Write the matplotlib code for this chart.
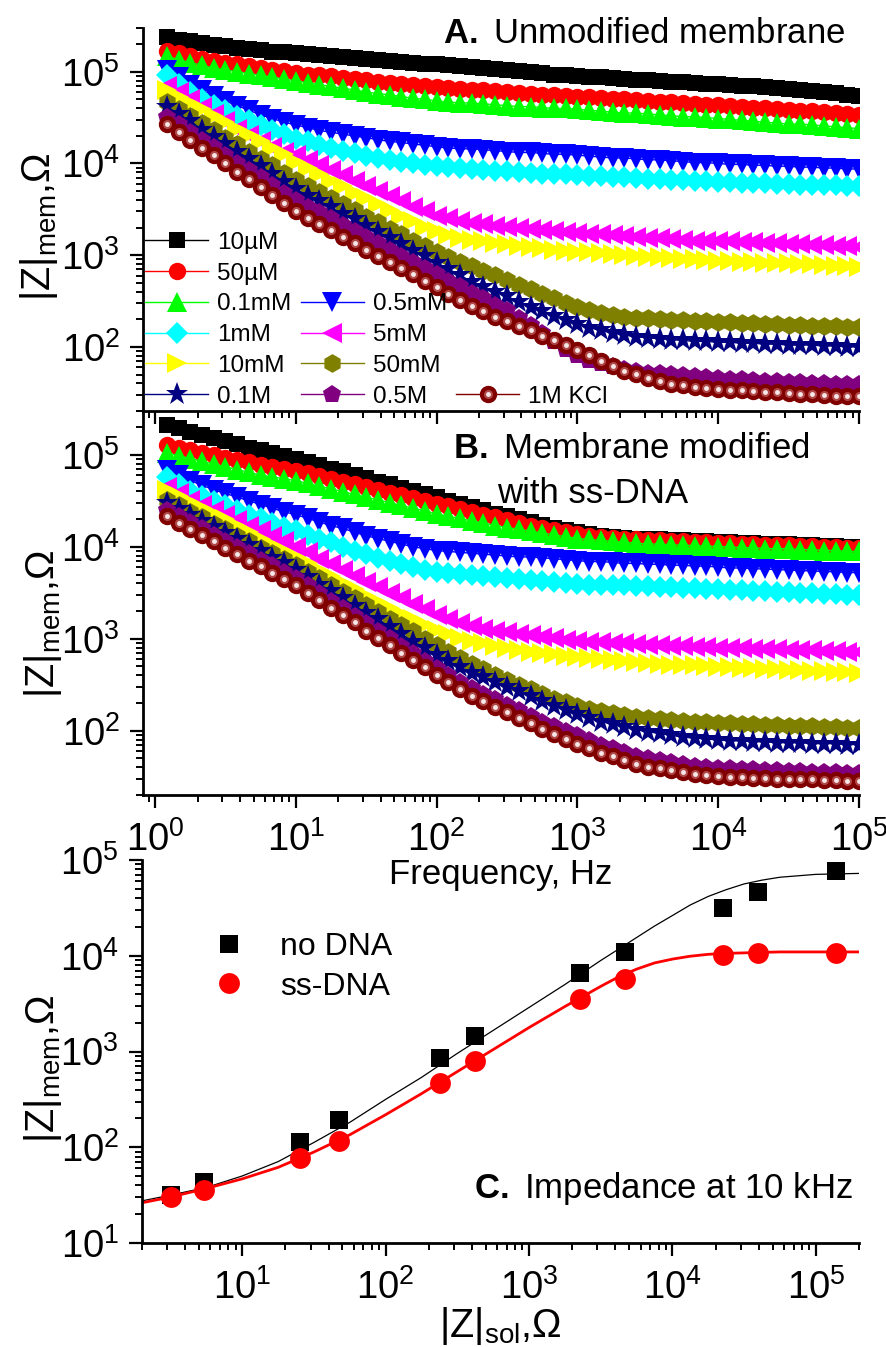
import numpy as np
import matplotlib
matplotlib.use('Agg')
import matplotlib.pyplot as plt
from matplotlib.lines import Line2D

plt.rcParams['font.family'] = ['Liberation Sans', 'DejaVu Sans']
plt.rcParams['mathtext.fontset'] = 'custom'
plt.rcParams['mathtext.rm'] = 'Liberation Sans'
plt.rcParams['mathtext.it'] = 'Liberation Sans:italic'
plt.rcParams['mathtext.bf'] = 'Liberation Sans:bold'

# ---------------- data ----------------
decade_mantissa = [1.21, 1.47, 1.78, 2.15, 2.61, 3.16, 3.83, 4.64, 5.62, 6.81, 8.25, 10.0]
freq = np.array([m * 10 ** d for d in range(5) for m in decade_mantissa])

labels = ['10µM', '50µM', '0.1mM', '0.5mM', '1mM', '5mM', '10mM', '50mM', '0.1M', '0.5M', '1M KCl']
colors = ['#000000', '#ff0000', '#00ff00', '#0000ff', '#00ffff', '#ff00ff', '#ffff00',
          '#808000', '#000080', '#800080', '#800000']
markers = ['s', 'o', '^', 'v', 'D', '<', '>', 'h', '*', 'p', 'o']
msizes = [12, 12.5, 14, 14, 11.5, 14, 14, 13.5, 17, 13.5, 12.5]

# panel A: log10 |Z|mem (Ohm)
A_10uM = [5.38, 5.35, 5.33, 5.31, 5.29, 5.28, 5.26, 5.25, 5.24, 5.22, 5.21, 5.20,
          5.19, 5.18, 5.17, 5.16, 5.15, 5.14, 5.13, 5.12, 5.11, 5.10, 5.09, 5.08,
          5.07, 5.06, 5.05, 5.04, 5.03, 5.02, 5.01, 5.00, 4.99, 4.97, 4.96, 4.95,
          4.94, 4.94, 4.93, 4.92, 4.91, 4.91, 4.90, 4.89, 4.89, 4.88, 4.87, 4.87,
          4.86, 4.85, 4.84, 4.83, 4.82, 4.81, 4.80, 4.79, 4.78, 4.77, 4.75, 4.74]
A_50uM = [5.23, 5.20, 5.17, 5.14, 5.12, 5.10, 5.08, 5.06, 5.04, 5.02, 5.01, 4.99,
          4.97, 4.96, 4.95, 4.93, 4.92, 4.91, 4.89, 4.88, 4.87, 4.86, 4.84, 4.83,
          4.82, 4.81, 4.80, 4.80, 4.79, 4.78, 4.77, 4.76, 4.75, 4.75, 4.74, 4.73,
          4.72, 4.71, 4.70, 4.70, 4.69, 4.68, 4.67, 4.67, 4.66, 4.65, 4.64, 4.64,
          4.63, 4.62, 4.61, 4.60, 4.59, 4.58, 4.57, 4.57, 4.56, 4.55, 4.54, 4.53]
A_01mM = [5.17, 5.13, 5.10, 5.07, 5.04, 5.02, 5.00, 4.98, 4.96, 4.94, 4.92, 4.90,
          4.88, 4.86, 4.84, 4.82, 4.80, 4.78, 4.76, 4.75, 4.73, 4.71, 4.70, 4.68,
          4.67, 4.66, 4.66, 4.65, 4.64, 4.63, 4.62, 4.62, 4.61, 4.60, 4.60, 4.59,
          4.58, 4.57, 4.56, 4.55, 4.55, 4.54, 4.53, 4.52, 4.51, 4.51, 4.50, 4.49,
          4.48, 4.47, 4.46, 4.45, 4.44, 4.43, 4.43, 4.42, 4.41, 4.40, 4.39, 4.38]
A_05mM = [5.02, 4.94, 4.86, 4.80, 4.74, 4.68, 4.63, 4.58, 4.53, 4.49, 4.45, 4.42,
          4.39, 4.36, 4.34, 4.32, 4.30, 4.28, 4.26, 4.24, 4.23, 4.21, 4.20, 4.18,
          4.17, 4.16, 4.16, 4.15, 4.14, 4.13, 4.12, 4.12, 4.11, 4.10, 4.10, 4.09,
          4.08, 4.07, 4.06, 4.06, 4.05, 4.04, 4.04, 4.03, 4.02, 4.01, 4.01, 4.00,
          3.99, 3.99, 3.98, 3.98, 3.97, 3.97, 3.96, 3.96, 3.95, 3.95, 3.94, 3.94]
A_1mM = [4.96, 4.87, 4.78, 4.70, 4.64, 4.58, 4.52, 4.47, 4.42, 4.37, 4.32, 4.27,
         4.24, 4.20, 4.17, 4.14, 4.11, 4.08, 4.06, 4.04, 4.02, 4.00, 3.98, 3.97,
         3.96, 3.95, 3.94, 3.93, 3.92, 3.92, 3.91, 3.90, 3.89, 3.89, 3.88, 3.87,
         3.86, 3.86, 3.85, 3.85, 3.84, 3.83, 3.83, 3.82, 3.82, 3.81, 3.81, 3.80,
         3.80, 3.79, 3.79, 3.79, 3.78, 3.78, 3.77, 3.77, 3.76, 3.76, 3.75, 3.75]
A_5mM = [4.85, 4.78, 4.70, 4.62, 4.54, 4.46, 4.38, 4.31, 4.24, 4.18, 4.13, 4.09,
         4.04, 3.98, 3.93, 3.87, 3.81, 3.75, 3.70, 3.64, 3.59, 3.53, 3.48, 3.43,
         3.40, 3.37, 3.35, 3.34, 3.32, 3.31, 3.30, 3.29, 3.28, 3.26, 3.25, 3.24,
         3.23, 3.23, 3.22, 3.21, 3.20, 3.19, 3.19, 3.18, 3.17, 3.16, 3.16, 3.15,
         3.15, 3.14, 3.14, 3.13, 3.13, 3.12, 3.12, 3.11, 3.11, 3.10, 3.10, 3.09]
A_10mM = [4.80, 4.73, 4.66, 4.59, 4.52, 4.45, 4.38, 4.31, 4.24, 4.17, 4.10, 4.02,
          3.95, 3.88, 3.81, 3.75, 3.68, 3.62, 3.56, 3.49, 3.43, 3.37, 3.31, 3.26,
          3.22, 3.19, 3.17, 3.15, 3.13, 3.12, 3.10, 3.09, 3.08, 3.06, 3.05, 3.04,
          3.03, 3.02, 3.01, 3.00, 2.99, 2.98, 2.98, 2.97, 2.96, 2.96, 2.95, 2.94,
          2.94, 2.93, 2.93, 2.92, 2.91, 2.91, 2.90, 2.90, 2.89, 2.88, 2.88, 2.87]
A_50mM = [4.67, 4.59, 4.52, 4.44, 4.36, 4.28, 4.21, 4.13, 4.05, 3.98, 3.90, 3.82,
          3.75, 3.69, 3.62, 3.56, 3.49, 3.42, 3.36, 3.29, 3.23, 3.16, 3.10, 3.03,
          2.98, 2.93, 2.88, 2.83, 2.78, 2.73, 2.68, 2.63, 2.58, 2.53, 2.48, 2.44,
          2.40, 2.37, 2.35, 2.33, 2.32, 2.31, 2.30, 2.29, 2.29, 2.28, 2.28, 2.27,
          2.27, 2.26, 2.26, 2.25, 2.25, 2.24, 2.24, 2.23, 2.23, 2.23, 2.22, 2.22]
A_01M = [4.62, 4.54, 4.46, 4.37, 4.29, 4.21, 4.13, 4.05, 3.97, 3.88, 3.80, 3.72,
         3.65, 3.59, 3.52, 3.45, 3.39, 3.32, 3.25, 3.19, 3.12, 3.05, 2.99, 2.92,
         2.85, 2.78, 2.71, 2.65, 2.60, 2.55, 2.49, 2.44, 2.39, 2.34, 2.29, 2.25,
         2.21, 2.18, 2.15, 2.13, 2.11, 2.10, 2.09, 2.08, 2.07, 2.06, 2.06, 2.05,
         2.05, 2.04, 2.04, 2.03, 2.03, 2.02, 2.02, 2.02, 2.01, 2.01, 2.00, 2.00]
A_05M = [4.51, 4.43, 4.34, 4.26, 4.18, 4.09, 4.01, 3.93, 3.85, 3.76, 3.68, 3.60,
         3.53, 3.47, 3.40, 3.33, 3.26, 3.20, 3.13, 3.06, 2.99, 2.93, 2.86, 2.79,
         2.72, 2.66, 2.59, 2.53, 2.46, 2.40, 2.32, 2.24, 2.15, 2.06, 1.98, 1.91,
         1.86, 1.82, 1.79, 1.76, 1.74, 1.72, 1.71, 1.70, 1.69, 1.68, 1.67, 1.66,
         1.65, 1.65, 1.64, 1.63, 1.63, 1.62, 1.62, 1.61, 1.61, 1.60, 1.60, 1.59]
A_1M = [4.43, 4.34, 4.26, 4.17, 4.09, 4.00, 3.91, 3.83, 3.74, 3.66, 3.57, 3.48,
        3.41, 3.34, 3.27, 3.20, 3.13, 3.06, 2.99, 2.93, 2.86, 2.79, 2.72, 2.65,
        2.58, 2.51, 2.45, 2.39, 2.33, 2.28, 2.23, 2.18, 2.12, 2.07, 2.02, 1.97,
        1.91, 1.85, 1.79, 1.74, 1.70, 1.66, 1.63, 1.60, 1.58, 1.56, 1.55, 1.54,
        1.53, 1.53, 1.52, 1.51, 1.51, 1.50, 1.49, 1.49, 1.48, 1.47, 1.47, 1.46]

# panel B: log10 |Z|mem (Ohm), membrane modified with ss-DNA
B_10uM = [5.33, 5.29, 5.25, 5.22, 5.18, 5.15, 5.12, 5.08, 5.05, 5.02, 4.99, 4.96,
          4.92, 4.89, 4.85, 4.82, 4.78, 4.75, 4.71, 4.68, 4.64, 4.61, 4.57, 4.54,
          4.50, 4.47, 4.43, 4.40, 4.36, 4.33, 4.30, 4.27, 4.24, 4.21, 4.18, 4.16,
          4.14, 4.12, 4.11, 4.10, 4.09, 4.08, 4.08, 4.07, 4.07, 4.06, 4.06, 4.05,
          4.05, 4.04, 4.04, 4.03, 4.03, 4.03, 4.02, 4.02, 4.01, 4.01, 4.00, 4.00]
B_50uM = [5.11, 5.08, 5.05, 5.02, 5.00, 4.97, 4.94, 4.92, 4.89, 4.87, 4.85, 4.83,
          4.80, 4.77, 4.74, 4.71, 4.68, 4.65, 4.62, 4.59, 4.56, 4.53, 4.50, 4.47,
          4.44, 4.41, 4.38, 4.35, 4.32, 4.29, 4.26, 4.23, 4.21, 4.18, 4.16, 4.14,
          4.12, 4.11, 4.10, 4.09, 4.08, 4.07, 4.07, 4.06, 4.06, 4.05, 4.05, 4.04,
          4.04, 4.03, 4.03, 4.02, 4.02, 4.02, 4.01, 4.01, 4.00, 4.00, 3.99, 3.99]
B_01mM = [5.02, 4.99, 4.96, 4.93, 4.90, 4.87, 4.84, 4.81, 4.78, 4.76, 4.74, 4.72,
          4.69, 4.66, 4.63, 4.60, 4.57, 4.54, 4.51, 4.48, 4.45, 4.42, 4.39, 4.36,
          4.33, 4.31, 4.28, 4.26, 4.23, 4.21, 4.19, 4.17, 4.15, 4.13, 4.11, 4.09,
          4.08, 4.07, 4.06, 4.05, 4.04, 4.03, 4.03, 4.02, 4.02, 4.01, 4.01, 4.00,
          4.00, 3.99, 3.99, 3.98, 3.98, 3.98, 3.97, 3.97, 3.96, 3.96, 3.95, 3.95]
B_05mM = [4.84, 4.78, 4.72, 4.67, 4.62, 4.58, 4.54, 4.50, 4.46, 4.42, 4.38, 4.35,
          4.31, 4.27, 4.23, 4.20, 4.16, 4.12, 4.09, 4.06, 4.03, 4.00, 3.98, 3.96,
          3.95, 3.94, 3.93, 3.92, 3.91, 3.90, 3.89, 3.89, 3.88, 3.87, 3.86, 3.85,
          3.84, 3.84, 3.83, 3.82, 3.82, 3.81, 3.81, 3.80, 3.80, 3.79, 3.79, 3.78,
          3.77, 3.77, 3.76, 3.76, 3.75, 3.75, 3.74, 3.74, 3.73, 3.73, 3.72, 3.72]
B_1mM = [4.76, 4.68, 4.61, 4.55, 4.50, 4.45, 4.40, 4.35, 4.31, 4.26, 4.22, 4.18,
         4.13, 4.09, 4.05, 4.00, 3.96, 3.92, 3.88, 3.85, 3.81, 3.78, 3.75, 3.73,
         3.71, 3.70, 3.69, 3.68, 3.67, 3.66, 3.65, 3.64, 3.63, 3.62, 3.61, 3.60,
         3.59, 3.59, 3.58, 3.58, 3.57, 3.57, 3.56, 3.56, 3.55, 3.55, 3.54, 3.54,
         3.53, 3.53, 3.52, 3.52, 3.51, 3.51, 3.50, 3.50, 3.49, 3.49, 3.48, 3.48]
B_5mM = [4.65, 4.58, 4.51, 4.45, 4.40, 4.35, 4.29, 4.23, 4.18, 4.12, 4.06, 4.00,
         3.94, 3.87, 3.81, 3.75, 3.68, 3.62, 3.56, 3.50, 3.44, 3.38, 3.32, 3.26,
         3.21, 3.17, 3.14, 3.11, 3.09, 3.07, 3.05, 3.04, 3.02, 3.01, 2.99, 2.98,
         2.97, 2.96, 2.95, 2.95, 2.94, 2.93, 2.93, 2.92, 2.92, 2.91, 2.91, 2.90,
         2.90, 2.90, 2.89, 2.89, 2.89, 2.88, 2.88, 2.88, 2.87, 2.87, 2.86, 2.86]
B_10mM = [4.62, 4.55, 4.49, 4.42, 4.36, 4.30, 4.23, 4.16, 4.09, 4.02, 3.96, 3.89,
          3.82, 3.75, 3.68, 3.61, 3.54, 3.47, 3.40, 3.34, 3.27, 3.21, 3.15, 3.10,
          3.05, 3.01, 2.98, 2.95, 2.92, 2.90, 2.88, 2.86, 2.84, 2.83, 2.81, 2.80,
          2.79, 2.78, 2.77, 2.76, 2.75, 2.74, 2.73, 2.72, 2.71, 2.71, 2.70, 2.69,
          2.69, 2.68, 2.68, 2.67, 2.67, 2.66, 2.66, 2.65, 2.65, 2.64, 2.64, 2.63]
B_50mM = [4.51, 4.45, 4.38, 4.32, 4.25, 4.19, 4.12, 4.06, 3.99, 3.93, 3.87, 3.80,
          3.73, 3.66, 3.58, 3.51, 3.44, 3.37, 3.29, 3.22, 3.15, 3.08, 3.00, 2.93,
          2.86, 2.79, 2.73, 2.67, 2.61, 2.55, 2.50, 2.45, 2.40, 2.35, 2.31, 2.27,
          2.24, 2.21, 2.19, 2.17, 2.15, 2.14, 2.13, 2.12, 2.11, 2.10, 2.09, 2.08,
          2.08, 2.07, 2.07, 2.06, 2.06, 2.05, 2.05, 2.05, 2.04, 2.04, 2.03, 2.03]
B_01M = [4.48, 4.41, 4.35, 4.28, 4.22, 4.15, 4.08, 4.02, 3.95, 3.88, 3.82, 3.75,
         3.67, 3.59, 3.52, 3.44, 3.36, 3.28, 3.21, 3.13, 3.05, 2.97, 2.90, 2.82,
         2.76, 2.69, 2.63, 2.58, 2.53, 2.48, 2.43, 2.38, 2.32, 2.27, 2.23, 2.18,
         2.14, 2.10, 2.07, 2.04, 2.01, 1.99, 1.97, 1.95, 1.93, 1.92, 1.91, 1.90,
         1.89, 1.89, 1.88, 1.88, 1.87, 1.87, 1.87, 1.86, 1.86, 1.86, 1.85, 1.85]
B_05M = [4.40, 4.33, 4.27, 4.20, 4.13, 4.06, 4.00, 3.93, 3.86, 3.80, 3.73, 3.66,
         3.58, 3.50, 3.41, 3.33, 3.25, 3.17, 3.09, 3.01, 2.92, 2.84, 2.76, 2.68,
         2.61, 2.53, 2.46, 2.40, 2.34, 2.28, 2.22, 2.16, 2.10, 2.05, 2.00, 1.95,
         1.90, 1.85, 1.81, 1.77, 1.73, 1.70, 1.68, 1.66, 1.64, 1.62, 1.61, 1.60,
         1.59, 1.58, 1.58, 1.57, 1.57, 1.56, 1.56, 1.55, 1.55, 1.55, 1.54, 1.54]
B_1M = [4.33, 4.26, 4.19, 4.13, 4.06, 3.99, 3.92, 3.85, 3.79, 3.72, 3.65, 3.58,
        3.50, 3.42, 3.34, 3.26, 3.18, 3.09, 3.01, 2.93, 2.85, 2.77, 2.69, 2.61,
        2.53, 2.45, 2.38, 2.32, 2.26, 2.20, 2.14, 2.08, 2.02, 1.96, 1.91, 1.86,
        1.81, 1.76, 1.72, 1.68, 1.64, 1.61, 1.59, 1.57, 1.55, 1.53, 1.52, 1.51,
        1.50, 1.50, 1.49, 1.49, 1.48, 1.48, 1.47, 1.47, 1.46, 1.46, 1.45, 1.45]

series_A = [A_10uM, A_50uM, A_01mM, A_05mM, A_1mM, A_5mM, A_10mM, A_50mM, A_01M, A_05M, A_1M]
series_B = [B_10uM, B_50uM, B_01mM, B_05mM, B_1mM, B_5mM, B_10mM, B_50mM, B_01M, B_05M, B_1M]

# panel C: impedance at 10 kHz
Zsol = [3.2, 5.4, 25.4, 47.4, 240, 421, 2265, 4670, 22500, 39400, 137700]
Zmem_noDNA = [31.7, 43.4, 113, 193, 855, 1450, 6600, 10900, 31500, 46300, 76700]
Zmem_ssDNA = [30.2, 35.7, 77, 116, 469, 795, 3530, 5710, 10200, 10700, 10700]
fit_x = [2, 3.16, 5.62, 10, 17.8, 31.6, 56.2, 100, 178, 316, 562, 1000, 1780,
         3160, 4220, 5620, 7500, 1e4, 1.33e4, 1.78e4, 2.37e4, 3.16e4, 4.22e4,
         5.62e4, 1e5, 2e5]
fit_noDNA_log = [1.44, 1.50, 1.58, 1.70, 1.85, 2.05, 2.26, 2.50, 2.73, 2.98, 3.22,
                 3.46, 3.70, 3.95, 4.07, 4.19, 4.31, 4.42, 4.53, 4.62, 4.69, 4.75,
                 4.79, 4.82, 4.85, 4.86]
fit_ssDNA_log = [1.42, 1.48, 1.57, 1.67, 1.79, 1.95, 2.13, 2.34, 2.56, 2.79, 3.02,
                 3.25, 3.47, 3.68, 3.78, 3.86, 3.925, 3.965, 3.995, 4.015, 4.025,
                 4.03, 4.035, 4.04, 4.04, 4.04]

# ---------------- figure ----------------
W, H = 887, 1347
fig = plt.figure(figsize=(W / 100, H / 100), dpi=100)


def fx(px):
    return px / W


def fy(py):
    return 1 - py / H


axA = fig.add_axes([fx(143), fy(411), (859 - 143) / W, (411 - 28) / H])
axB = fig.add_axes([fx(143), fy(795), (859 - 143) / W, (795 - 411) / H])
axC = fig.add_axes([fx(142), fy(1243), (859 - 142) / W, (1243 - 860) / H])
for ax in (axA, axB, axC):
    ax.patch.set_alpha(0)

TICK_FS = 27.5


def style(ax):
    ax.set_xscale('log')
    ax.set_yscale('log')
    for s in ['top', 'right']:
        ax.spines[s].set_visible(False)
    for s in ['left', 'bottom']:
        ax.spines[s].set_linewidth(2.0)
    ax.tick_params(which='major', direction='out', length=9.5, width=1.6,
                   labelsize=TICK_FS)
    ax.tick_params(which='minor', direction='out', length=5, width=1.4)
    ax.tick_params(axis='y', which='major', pad=7)
    ax.tick_params(axis='x', which='major', pad=9)
    ax.tick_params(top=False, right=False)


def draw_series(ax, data):
    handles = []
    for lab, col, mk, ms, vals in zip(labels, colors, markers, msizes, data):
        z = 10 ** np.array(vals)
        h, = ax.plot(freq, z, color=col, lw=1.0, marker=mk, ms=ms, mew=0,
                     label=lab)
        handles.append(h)
    # shiny highlight on the 1M KCl spheres
    z = 10 ** np.array(data[-1])
    ax.plot(freq, z, ls='none', marker='o', ms=6.5, color='#b04848', mew=0)
    ax.plot(freq, z, ls='none', marker='o', ms=3.5, color='#f6e8e8', mew=0)
    return handles


for ax, data in [(axA, series_A), (axB, series_B)]:
    style(ax)
    hs = draw_series(ax, data)
    ax.set_xlim(0.82, 1e5)
    ax.set_ylim(20, 3e5)
    if ax is axA:
        handlesA = hs

axA.tick_params(labelbottom=False)

# legend of panel A (Origin-style irregular layout)
blank = Line2D([], [], ls='none', marker='none')
h_ring = Line2D([], [], ls='none', marker='o', ms=6.5, color='#b04848', mew=0)
h_dot = Line2D([], [], ls='none', marker='o', ms=3.5, color='#f6e8e8', mew=0)
col1 = [handlesA[i] for i in [0, 1, 2, 4, 6, 8]]
col2 = [blank, blank] + [handlesA[i] for i in [3, 5, 7, 9]]
col3 = [blank] * 5 + [(handlesA[10], h_ring, h_dot)]
lab1 = [labels[i] for i in [0, 1, 2, 4, 6, 8]]
lab2 = ['', ''] + [labels[i] for i in [3, 5, 7, 9]]
lab3 = [''] * 5 + [labels[10]]
legA = axA.legend(col1 + col2 + col3, lab1 + lab2 + lab3, ncol=3,
                  loc='upper left', bbox_to_anchor=(0.003, 0.468),
                  frameon=False, fontsize=17.5, numpoints=1,
                  handlelength=2.6, handletextpad=0.37, columnspacing=0.37,
                  labelspacing=0.36, borderpad=0, borderaxespad=0)

axB.set_xlabel('Frequency, Hz', fontsize=25, labelpad=0)

ylab = r'$\mathrm{|Z|_{mem}}$,Ω'
YL_FS = 28.5
axA.set_ylabel(ylab, fontsize=YL_FS)
axB.set_ylabel(ylab, fontsize=YL_FS)
axC.set_ylabel(ylab, fontsize=YL_FS)
axA.yaxis.set_label_coords((60 - 143) / 716, (411 - 227) / 383)
axB.yaxis.set_label_coords((64 - 143) / 716, (795 - 624) / 384)
axC.yaxis.set_label_coords((64 - 142) / 717, (1243 - 1069) / 383)

# panel C
style(axC)
axC.plot(fit_x, 10 ** np.array(fit_noDNA_log), color='black', lw=0.9, zorder=2)
axC.plot(fit_x, 10 ** np.array(fit_ssDNA_log), color='#ff0000', lw=2.0, zorder=2)
hC1, = axC.plot(Zsol, Zmem_noDNA, ls='none', marker='s', ms=13.5, color='black',
                mew=0, zorder=3, label='no DNA')
hC2, = axC.plot(Zsol, Zmem_ssDNA, ls='none', marker='o', ms=15, color='#ff0000',
                mew=0, zorder=4, label='ss-DNA')
axC.set_xlim(2, 2e5)
axC.set_ylim(10, 1e5)
axC.set_xlabel(r'$\mathrm{|Z|_{sol}}$,Ω', fontsize=28.5, labelpad=-1)
axC.legend([hC1, hC2], ['no DNA', 'ss-DNA'], loc='upper left',
           bbox_to_anchor=(fx(213), fy(932)), bbox_transform=fig.transFigure,
           frameon=False, fontsize=23, handlelength=1.0, handletextpad=1.1,
           labelspacing=0.3, borderpad=0, borderaxespad=0, numpoints=1)

# panel titles
fig.text(fx(845), fy(43), r'$\mathbf{A.}$ Unmodified membrane', fontsize=25,
         ha='right', va='baseline')
fig.text(fx(453), fy(458), r'$\mathbf{B.}$ Membrane modified', fontsize=25,
         ha='left', va='baseline')
fig.text(fx(497), fy(503), 'with ss-DNA', fontsize=25, ha='left', va='baseline')
fig.text(fx(853), fy(1198), r'$\mathbf{C.}$ Impedance at 10 kHz', fontsize=25,
         ha='right', va='baseline')

fig.savefig('out.png', dpi=100)
